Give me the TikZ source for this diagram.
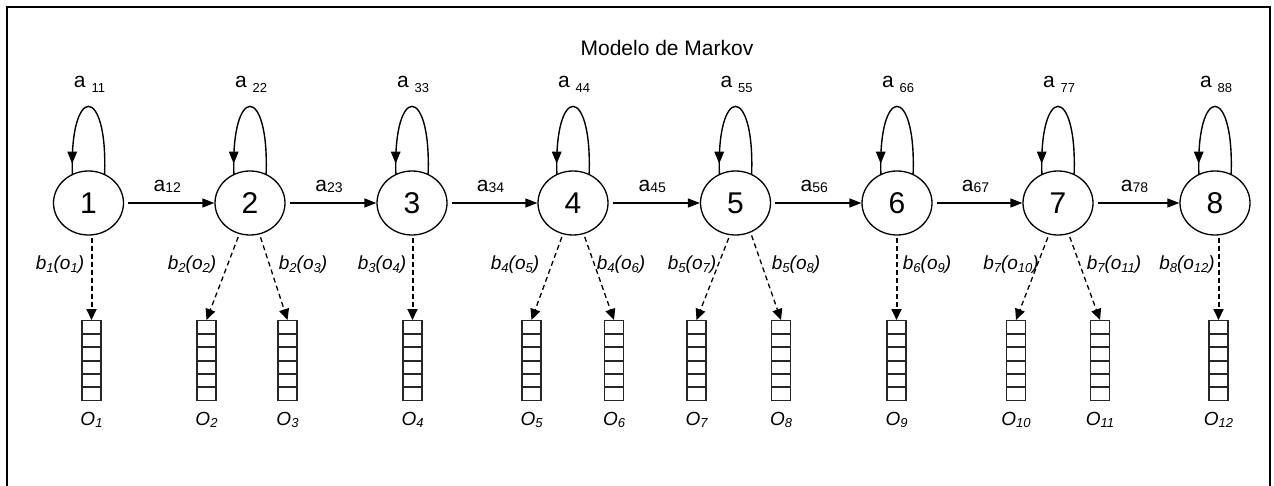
\documentclass[tikz,border=0pt]{standalone}
\usepackage{fontspec}
\setmainfont{Liberation Sans}
\usetikzlibrary{arrows.meta,calc,decorations.markings,shapes.geometric}
\newcommand\sbx[3]{\raisebox{-#1pt}{\fontsize{#2}{#2}\selectfont #3}}
\begin{document}
\begin{tikzpicture}[x=1pt,y=-1pt,
  state/.style={draw,ellipse,line width=1.3pt,minimum width=70pt,minimum height=64pt,inner sep=0pt,font=\fontsize{30}{30}\selectfont},
  trans/.style={line width=1.4pt,-{Triangle[length=12pt,width=9pt]},shorten <=4pt},
  selfloop/.style={line width=1.4pt,postaction={decorate},decoration={markings,mark=at position 0.93 with {\arrow{Triangle[length=12pt,width=9.5pt]}}}},
  emit/.style={line width=2pt,dash pattern=on 5pt off 3pt,-{Triangle[length=11pt,width=10pt]},shorten <=2pt},
  emitd/.style={line width=1.3pt,dash pattern=on 5pt off 3.5pt,-{Triangle[length=11pt,width=10pt]},shorten <=3pt},
  obsbox/.style={draw=black!85,line width=1.2pt,minimum width=19pt,minimum height=80pt,inner sep=0pt,anchor=north,
    path picture={\foreach \k in {1,...,5}{\draw[line width=1.8pt] ($(path picture bounding box.north west)!\k/6!(path picture bounding box.south west)$) -- ($(path picture bounding box.north east)!\k/6!(path picture bounding box.south east)$);}}},
  blab/.style={anchor=base,font=\fontsize{19}{19}\selectfont\itshape},
  olab/.style={anchor=base,font=\fontsize{19}{19}\selectfont\itshape},
  alab/.style={anchor=base,font=\fontsize{21}{21}\selectfont},
]
\useasboundingbox (0,0) rectangle (1274,486);
\clip (0,0) rectangle (1274,486);
\draw[line width=2pt] (7,7) rectangle (1270,520);

\node[anchor=base,font=\fontsize{21}{21}\selectfont] (title) at (667,56) {Modelo de Markov};

% states
\foreach \n/\x in {1/88.5,2/250,3/412,4/573,5/735.5,6/897,7/1058,8/1215}{
  \node[state] (n\n) at (\x,203) {\n};
  \draw[selfloop] (n\n.61) .. controls +(3,-90) and +(-3,-90) .. (n\n.119);
  \node[alab] (l\n\n) at (\x+1,88) {a~\sbx{5}{13}{\n\n}};
}

% transitions
\foreach \a/\b in {1/2,2/3,3/4,4/5,5/6,6/7,7/8}{
  \draw[trans] (n\a.east) -- (n\b.west);
  \node[alab] (l\a\b) at ($(n\a.east)!0.5!(n\b.west)+(-2,-11)$) {a\sbx{1}{14}{\a\b}};
}

% observation boxes
\foreach \i/\x in {1/91.5,2/206.5,3/287.5,4/412.5,5/531.5,6/614,7/696.5,8/781,9/896.5,10/1016,11/1100,12/1218.5}{
  \node[obsbox] (o\i) at (\x,320) {};
  \node[olab] (ol\i) at (\x,425) {O\sbx{2}{13}{\i}};
}

% emissions
\draw[emit] (n1.south -| o1.north) -- (o1.north);
\draw[emitd] (n2.-109) -- (o2.north);
\draw[emitd] (n2.-73) -- (o3.north);
\draw[emit] (n3.south -| o4.north) -- (o4.north);
\draw[emitd] (n4.-108) -- (o5.north);
\draw[emitd] (n4.-71) -- (o6.north);
\draw[emitd] (n5.-100) -- (o7.north);
\draw[emitd] (n5.-63) -- (o8.north);
\draw[emit] (n6.south -| o9.north) -- (o9.north);
\draw[emitd] (n7.-106) -- (o10.north);
\draw[emitd] (n7.-71) -- (o11.north);
\draw[emit] (n8.south -| o12.north) -- (o12.north);

% emission labels
\foreach \s/\o/\x in {1/1/60,2/2/192,2/3/303,3/4/382,4/5/515,4/6/621,5/7/692,5/8/796,6/9/927,7/10/1011,7/11/1114,8/12/1187}{
  \node[blab] (bl\o) at (\x,270) {b\sbx{2}{13}{\s}(o\sbx{2}{13}{\o})};
}
\end{tikzpicture}
\end{document}
